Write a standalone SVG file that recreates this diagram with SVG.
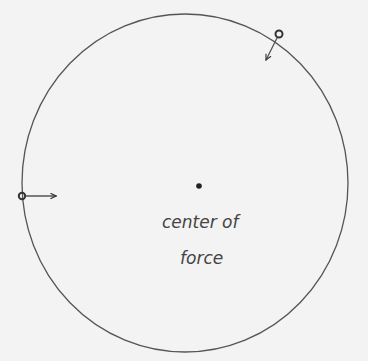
<svg xmlns="http://www.w3.org/2000/svg" width="368" height="361" viewBox="0 0 368 361">
<style>
.ln{fill:none;stroke:#555;stroke-width:1.3;stroke-linecap:round}
.pt{fill:none;stroke:#333;stroke-width:2}
.t{font-family:"DejaVu Sans",sans-serif;font-size:17px;fill:#444;font-style:italic}
</style>
<defs>
<marker id="ah" viewBox="0 0 10 10" refX="9" refY="5" markerWidth="7" markerHeight="7" orient="auto" markerUnits="userSpaceOnUse">
<path d="M1,1 L9,5 L1,9" fill="none" stroke="#333" stroke-width="1.6"/>
</marker>
</defs>
<rect width="368" height="361" fill="#f3f3f3"/>
<g id="orbit"><ellipse class="ln" cx="185" cy="183" rx="163" ry="169"/></g>
<g id="center"><circle cx="199" cy="186" r="2.8" fill="#222"/>
<text class="t" x="162" y="228">center of</text>
<text class="t" x="180" y="264">force</text></g>
<g id="bodyLeft"><circle class="pt" cx="22" cy="196" r="3.2"/></g>
<g id="bodyTop"><circle class="pt" cx="279" cy="34" r="3.5"/></g>
<g id="connectors">
<line class="ln" x1="26" y1="196" x2="56" y2="196" stroke="#333" marker-end="url(#ah)"/>
<line class="ln" x1="277" y1="38" x2="266" y2="60" stroke="#333" marker-end="url(#ah)"/>
</g>
</svg>
